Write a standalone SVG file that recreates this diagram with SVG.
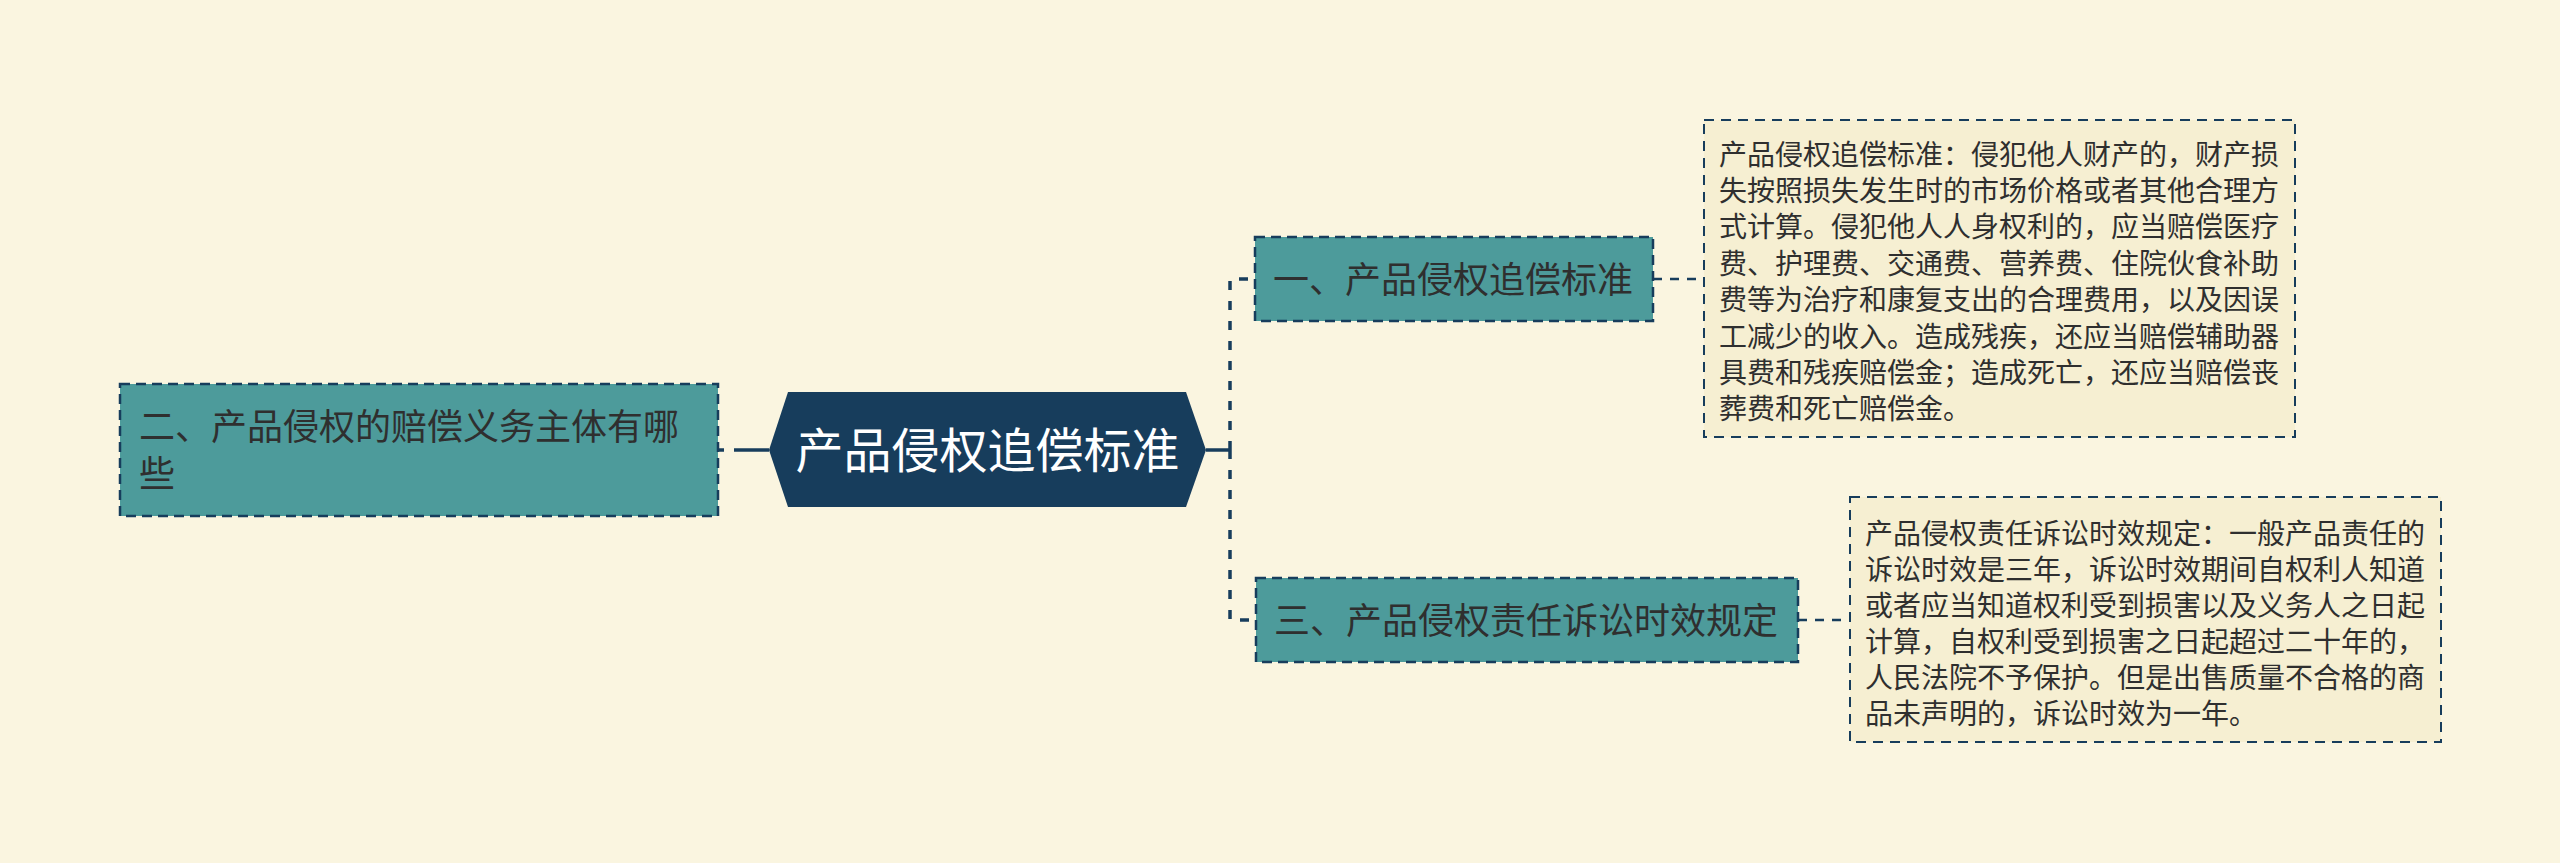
<svg xmlns="http://www.w3.org/2000/svg" width="2560" height="863" viewBox="0 0 2560 863">
<style>
text{font-family:"Noto Sans CJK SC","Noto Sans",sans-serif;fill:#2f2f2f}
.topic{fill:#4d9b9b;stroke:#173d5c;stroke-width:2.5;stroke-dasharray:10 6}
.t36{font-size:36px}
.note{fill:#f6efd2;stroke:#173d5c;stroke-width:2;stroke-dasharray:10 7}
.t28{font-size:28px}
.conn{fill:none;stroke:#173d5c}
</style>
<rect width="2560" height="863" fill="#faf5e0"/>
<g id="connectors">
<line class="conn" x1="718" y1="450" x2="724" y2="450" stroke-width="3.5"/>
<line class="conn" x1="734" y1="450" x2="769" y2="450" stroke-width="3.5"/>
<line class="conn" x1="1206" y1="450" x2="1230" y2="450" stroke-width="3.5"/>
<path class="conn" d="M1230 450 V279 H1255" stroke-width="3.5" stroke-dasharray="9 11"/>
<path class="conn" d="M1230 450 V620 H1255" stroke-width="3.5" stroke-dasharray="9 11"/>
<path class="conn" d="M1653 279 H1704" stroke-width="2.5" stroke-dasharray="9 8"/>
<path class="conn" d="M1798 620 H1850" stroke-width="2.5" stroke-dasharray="9 8"/>
</g>
<g id="root">
<polygon points="769,450 788,392 1186,392 1206,450 1186,507 788,507" fill="#173d5c"/>
<text x="987.5" y="468" font-size="48" text-anchor="middle" style="fill:#ffffff">产品侵权追偿标准</text>
</g>
<g id="node-left">
<rect class="topic" x="120" y="384" width="598" height="132"/>
<text class="t36"><tspan x="139" y="440">二、产品侵权的赔偿义务主体有哪</tspan><tspan x="139" y="487">些</tspan></text>
</g>
<g id="node-1">
<rect class="topic" x="1255" y="237" width="398" height="84"/>
<text class="t36" x="1273" y="293">一、产品侵权追偿标准</text>
</g>
<g id="node-3">
<rect class="topic" x="1256" y="578" width="542" height="84"/>
<text class="t36" x="1274" y="634">三、产品侵权责任诉讼时效规定</text>
</g>
<g id="note-1">
<rect class="note" x="1704" y="120" width="591" height="317"/>
<text class="t28" x="1719" y="164.6">产品侵权追偿标准：侵犯他人财产的，财产损</text>
<text class="t28" x="1719" y="201">失按照损失发生时的市场价格或者其他合理方</text>
<text class="t28" x="1719" y="237.4">式计算。侵犯他人人身权利的，应当赔偿医疗</text>
<text class="t28" x="1719" y="273.8">费、护理费、交通费、营养费、住院伙食补助</text>
<text class="t28" x="1719" y="310.2">费等为治疗和康复支出的合理费用，以及因误</text>
<text class="t28" x="1719" y="346.6">工减少的收入。造成残疾，还应当赔偿辅助器</text>
<text class="t28" x="1719" y="383">具费和残疾赔偿金；造成死亡，还应当赔偿丧</text>
<text class="t28" x="1719" y="419.4">葬费和死亡赔偿金。</text>
</g>
<g id="note-3">
<rect class="note" x="1850" y="497" width="591" height="245"/>
<text class="t28" x="1865" y="543.6">产品侵权责任诉讼时效规定：一般产品责任的</text>
<text class="t28" x="1865" y="579.6">诉讼时效是三年，诉讼时效期间自权利人知道</text>
<text class="t28" x="1865" y="615.6">或者应当知道权利受到损害以及义务人之日起</text>
<text class="t28" x="1865" y="651.6">计算，自权利受到损害之日起超过二十年的，</text>
<text class="t28" x="1865" y="687.6">人民法院不予保护。但是出售质量不合格的商</text>
<text class="t28" x="1865" y="723.6">品未声明的，诉讼时效为一年。</text>
</g>
</svg>
